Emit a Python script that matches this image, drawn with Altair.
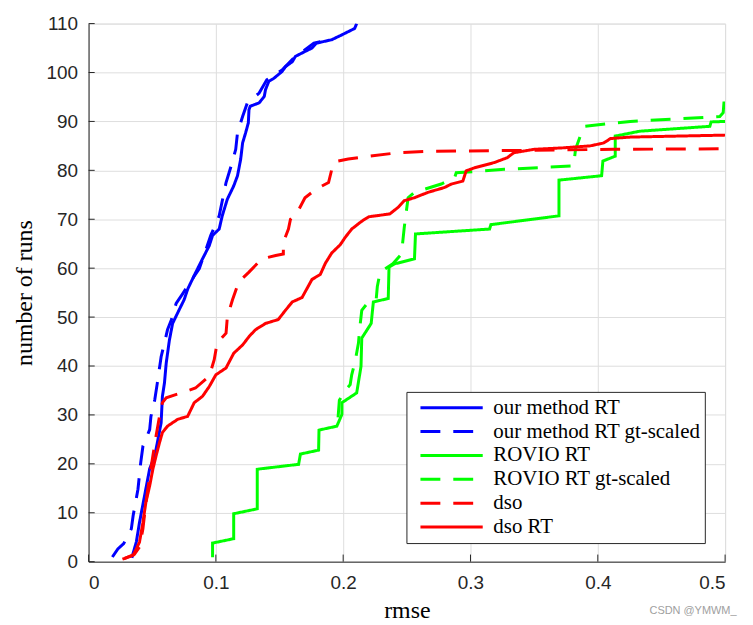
import altair as alt
import pandas as pd

# ---------------- data ----------------
series_names = ["our method RT", "our method RT gt-scaled", "ROVIO RT",
                "ROVIO RT gt-scaled", "dso", "dso RT"]
series_colors = ["#0000ff", "#0000ff", "#00ff00", "#00ff00", "#ff0000", "#ff0000"]
series_dash = [[1, 0], [20, 13], [1, 0], [20, 13], [20, 13], [1, 0]]

our_rt_x = [0.034, 0.0375, 0.040, 0.044, 0.048, 0.052, 0.054, 0.057, 0.058, 0.0596,
            0.061, 0.0635, 0.066, 0.071, 0.075, 0.078, 0.083, 0.0895, 0.0948, 0.0974,
            0.1026, 0.105, 0.109, 0.114, 0.117, 0.1195, 0.121, 0.1234, 0.1255, 0.126,
            0.127, 0.134, 0.138, 0.139, 0.1416, 0.1455, 0.152, 0.1547, 0.160, 0.1625,
            0.170, 0.1755, 0.179, 0.191, 0.199, 0.209, 0.2106]
our_rt_y = [0.8, 4, 8, 13.5, 19, 21.6, 24.3, 28.4, 33.8, 36.5,
            40.6, 45.3, 48.7, 51.4, 53.5, 55.8, 58.5, 61.9, 64.6, 66.7,
            68, 70.7, 74.1, 76.8, 78.9, 82.3, 85.6, 87.7, 89.7, 92.4,
            93.1, 93.8, 95.1, 96.5, 98.2, 98.8, 100.2, 101.2, 102.2, 103.3,
            104.3, 105, 106, 106.7, 107.7, 109, 110]

our_gt_x = [0.0187, 0.023, 0.0276, 0.0336, 0.035, 0.0388, 0.041, 0.0427, 0.048, 0.049,
            0.052, 0.054, 0.057, 0.0596, 0.062, 0.065, 0.0688, 0.074, 0.0817, 0.087,
            0.096, 0.1026, 0.108, 0.112, 0.1156, 0.117, 0.121, 0.1247, 0.134, 0.140,
            0.152, 0.161, 0.177, 0.182]
our_gt_y = [0.95, 2.6, 3.7, 6.7, 9.4, 14.8, 20.3, 23.6, 27, 29.7,
            33.1, 36.5, 41.9, 44.7, 47.4, 49.4, 52.8, 54.8, 57.9, 59.9,
            66.7, 70.7, 77.5, 80.9, 84.3, 87.7, 91, 93.8, 95.8, 98.5,
            100.5, 102.9, 106, 106.3]

rovio_rt_x = [0.0974, 0.0974, 0.114, 0.114, 0.1325, 0.1325, 0.165, 0.1664, 0.1807, 0.181,
              0.195, 0.199, 0.199, 0.2106, 0.214, 0.2146, 0.222, 0.2237, 0.2354, 0.236,
              0.2406, 0.256, 0.2568, 0.315, 0.316, 0.3695, 0.3695, 0.403, 0.404, 0.4137,
              0.4137, 0.433, 0.488, 0.489, 0.5]
rovio_rt_y = [0.9, 3.8, 4.7, 9.8, 10.8, 18.9, 19.9, 22, 22.8, 26.9,
              27.7, 30.1, 32.5, 34.5, 39.9, 45.7, 48.7, 53.1, 53.8, 60.2,
              60.9, 61.9, 67, 68, 68.9, 70.7, 78, 78.9, 81.9, 82.9,
              87, 88, 89, 89.9, 90]

rovio_gt_x = [0.196, 0.197, 0.2016, 0.2055, 0.2067, 0.2094, 0.212, 0.213, 0.2146, 0.221,
              0.226, 0.2268, 0.229, 0.239, 0.2458, 0.248, 0.251, 0.256, 0.277, 0.2875,
              0.2888, 0.3265, 0.381, 0.3825, 0.389, 0.4255, 0.4958, 0.4985, 0.4995]
rovio_gt_y = [29.5, 33, 35, 36.2, 38.2, 40.9, 44.7, 47.7, 51.4, 53.5,
              53.8, 56.2, 59.2, 60.9, 62.9, 68.4, 74.4, 75.5, 77.2, 78.5,
              79.5, 80.2, 80.9, 84.3, 89, 90, 91, 91.8, 95.2]

dso_x = [0.028, 0.036, 0.040, 0.0427, 0.045, 0.048, 0.0505, 0.053, 0.0557, 0.058,
         0.061, 0.0727, 0.084, 0.0948, 0.0987, 0.101, 0.108, 0.109, 0.113, 0.118,
         0.126, 0.136, 0.147, 0.153, 0.153, 0.157, 0.1586, 0.164, 0.170, 0.179,
         0.1885, 0.192, 0.194, 0.204, 0.218, 0.243, 0.269, 0.35, 0.4125, 0.5]
dso_y = [0.6, 1.5, 3, 6.7, 12, 17.5, 21.6, 25.7, 29.7, 32.5,
         33.5, 34.5, 35.5, 37.9, 41.3, 44.7, 46.7, 50, 53.5, 57.2,
         59.2, 61.9, 62.6, 62.9, 65.3, 68, 70, 71.4, 74.4, 76.2,
         77.5, 81.2, 81.8, 82.3, 82.8, 83.6, 83.9, 84.1, 84.3, 84.4]

dso_rt_x = [0.0266, 0.035, 0.0375, 0.040, 0.0427, 0.045, 0.048, 0.0505, 0.053, 0.0557,
            0.058, 0.062, 0.070, 0.0778, 0.083, 0.0895, 0.0948, 0.100, 0.108, 0.114,
            0.121, 0.126, 0.131, 0.139, 0.149, 0.1547, 0.160, 0.1677, 0.1755, 0.182,
            0.186, 0.191, 0.1977, 0.2016, 0.2067, 0.2146, 0.220, 0.2367, 0.243, 0.248,
            0.256, 0.2666, 0.2797, 0.285, 0.294, 0.2966, 0.303, 0.3188, 0.329, 0.334,
            0.350, 0.373, 0.394, 0.4047, 0.410, 0.4255, 0.5]
dso_rt_y = [0.5, 1.3, 2.6, 4, 8, 12.1, 15.5, 18.9, 21.6, 24.3,
            26.4, 27.7, 29.1, 29.7, 32.5, 33.8, 35.8, 38.2, 39.6, 42.6,
            44.3, 46, 47.4, 48.7, 49.5, 51.4, 53.1, 54, 57.7, 58.7,
            61, 63.1, 64.8, 66.3, 68, 69.6, 70.5, 71.1, 72.4, 73.8,
            74.4, 75.5, 76.5, 77.2, 77.8, 79.9, 80.5, 81.6, 82.6, 83.6,
            84.3, 84.6, 85, 85.6, 86.5, 86.8, 87.2]

x_ticks = [0, 0.1, 0.2, 0.3, 0.4, 0.5]
y_ticks = [0, 10, 20, 30, 40, 50, 60, 70, 80, 90, 100, 110]

# ---------------- build table ----------------
all_x = [our_rt_x, our_gt_x, rovio_rt_x, rovio_gt_x, dso_x, dso_rt_x]
all_y = [our_rt_y, our_gt_y, rovio_rt_y, rovio_gt_y, dso_y, dso_rt_y]
rows = []
for name, xs, ys in zip(series_names, all_x, all_y):
    for i, (xv, yv) in enumerate(zip(xs, ys)):
        rows.append({"series": name, "x": xv, "y": yv, "i": i})
df = pd.DataFrame(rows)

ytick_df = pd.DataFrame({"y": y_ticks, "x": [0.0] * len(y_ticks), "x2": [0.0048] * len(y_ticks)})
xtick_df = pd.DataFrame({"x": x_ticks, "y": [0.0] * len(x_ticks), "y2": [1.45] * len(x_ticks)})

axis_dark = "#262626"
xscale = alt.Scale(domain=[0, 0.5], nice=False, zero=False)
yscale = alt.Scale(domain=[0, 110], nice=False, zero=False)

xaxis = alt.Axis(values=x_ticks, format="~g", title="rmse", grid=True,
                 gridColor="#dedede", gridWidth=1, ticks=False, tickSize=0,
                 domainColor=axis_dark, domainWidth=1,
                 labelFont="Liberation Sans", labelFontSize=19, labelColor=axis_dark,
                 labelPadding=12, labelBaseline="top",
                 titleFont="Liberation Serif", titleFontSize=24, titleFontWeight="normal",
                 titleColor="#000000", titleX=320, titleY=56, titleBaseline="alphabetic",
                 titleAlign="center")
yaxis = alt.Axis(values=y_ticks, title="number of runs", grid=True,
                 gridColor="#dedede", gridWidth=1, ticks=False, tickSize=0,
                 domainColor=axis_dark, domainWidth=1,
                 labelFont="Liberation Sans", labelFontSize=19, labelColor=axis_dark,
                 labelPadding=11,
                 titleFont="Liberation Serif", titleFontSize=24, titleFontWeight="normal",
                 titleColor="#000000", titleAngle=270, titleX=-57, titleY=270.5,
                 titleBaseline="alphabetic", titleAlign="center")

X = alt.X("x:Q", scale=xscale, axis=xaxis)
Y = alt.Y("y:Q", scale=yscale, axis=yaxis)

legend = alt.Legend(orient="none", legendX=319.6, legendY=370.3,
                    fillColor="#ffffff", strokeColor=axis_dark, padding=4,
                    symbolType="stroke", symbolSize=3920, symbolStrokeWidth=3,
                    symbolOffset=8.4, labelOffset=9, clipHeight=23.8, rowPadding=0,
                    labelFont="Liberation Serif", labelFontSize=21, labelColor="#000000",
                    labelLimit=400, labelBaseline="middle")

lines = alt.Chart(df).mark_line(strokeWidth=3, clip=True).encode(
    x=X, y=Y,
    color=alt.Color("series:N", title=None,
                    scale=alt.Scale(domain=series_names, range=series_colors),
                    legend=legend, sort=series_names),
    strokeDash=alt.StrokeDash("series:N", title=None,
                              scale=alt.Scale(domain=series_names, range=series_dash),
                              legend=legend, sort=series_names),
    order=alt.Order("i:Q"),
)

yticks = alt.Chart(ytick_df).mark_rule(color=axis_dark, strokeWidth=1).encode(
    x=X, x2="x2:Q", y=Y)
xticks = alt.Chart(xtick_df).mark_rule(color=axis_dark, strokeWidth=1).encode(
    x=X, y=Y, y2="y2:Q")

chart = alt.layer(lines, yticks, xticks).properties(
    width=640, height=541,
    autosize=alt.AutoSizeParams(type="none"),
    padding={"left": 81, "top": 14, "right": 20, "bottom": 62},
    title=alt.TitleParams("CSDN @YMWM_", orient="bottom", anchor="end",
                          fontSize=11, color="#a0a0a0", font="Liberation Sans",
                          fontWeight="normal", offset=0, dx=11, dy=-17),
).configure_view(stroke=None).configure(background="#ffffff").configure_legend(
    labelFont="Liberation Serif", labelFontSize=21, labelColor="#000000",
    labelLimit=400, strokeColor=axis_dark, fillColor="#ffffff"
)

chart.save("out.html", embed_options={"renderer": "svg", "actions": False})
